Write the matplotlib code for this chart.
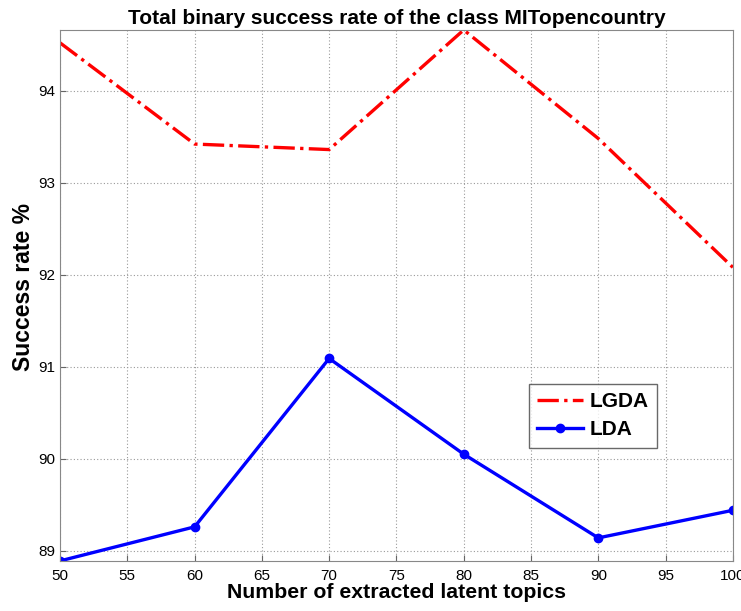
import numpy as np
import matplotlib.pyplot as plt

plt.rcParams['font.family'] = ['Liberation Sans', 'DejaVu Sans']

# Numero de topicos latentes
topics = np.array([50, 60, 70, 80, 90, 100])
# Taxas de sucesso
lgda = np.array([94.52, 93.42, 93.36, 94.66, 93.48, 92.08])
lda = np.array([88.89, 89.26, 91.09, 90.05, 89.14, 89.44])

fig = plt.figure(figsize=(7.41, 6.11), dpi=100)
ax = fig.add_axes([0.081, 0.082, 0.908, 0.869])

ax.plot(topics, lgda, color='red', linestyle='-.', linewidth=2.4, label='LGDA')
ax.plot(topics, lda, color='blue', linestyle='-', linewidth=2.4,
        marker='o', markersize=6, label='LDA')

ax.set_xlim(50, 100)
ax.set_ylim(min(lda.min(), lgda.min()), max(lda.max(), lgda.max()))
ax.set_xticks(np.arange(50, 101, 5))
ax.set_yticks([89, 90, 91, 92, 93, 94])
ax.grid(True, linestyle=(0, (1, 2)), color='#999999', linewidth=0.8)
ax.tick_params(direction='in', labelsize=11, length=4, color='#666666')
ax.tick_params(axis='x', pad=6)
for s in ax.spines.values():
    s.set_color('#888888')

ax.set_title('Total binary success rate of the class MITopencountry',
             fontsize=15, fontweight='bold', pad=4)
ax.set_xlabel('Number of extracted latent topics', fontsize=15.3,
              fontweight='bold', labelpad=0)
ax.set_ylabel('Success rate %', fontsize=16.5, fontweight='bold')
ax.yaxis.set_label_coords(-0.037, 0.516)

leg = ax.legend(loc='lower left', bbox_to_anchor=(0.697, 0.213),
                prop={'size': 15, 'weight': 'bold'}, fancybox=False,
                handlelength=2.2, handletextpad=0.3, borderpad=0.4,
                labelspacing=0.45, borderaxespad=0)
leg.get_frame().set_edgecolor('#444444')
leg.get_frame().set_linewidth(1.0)

fig.savefig('out.png', dpi=100)
